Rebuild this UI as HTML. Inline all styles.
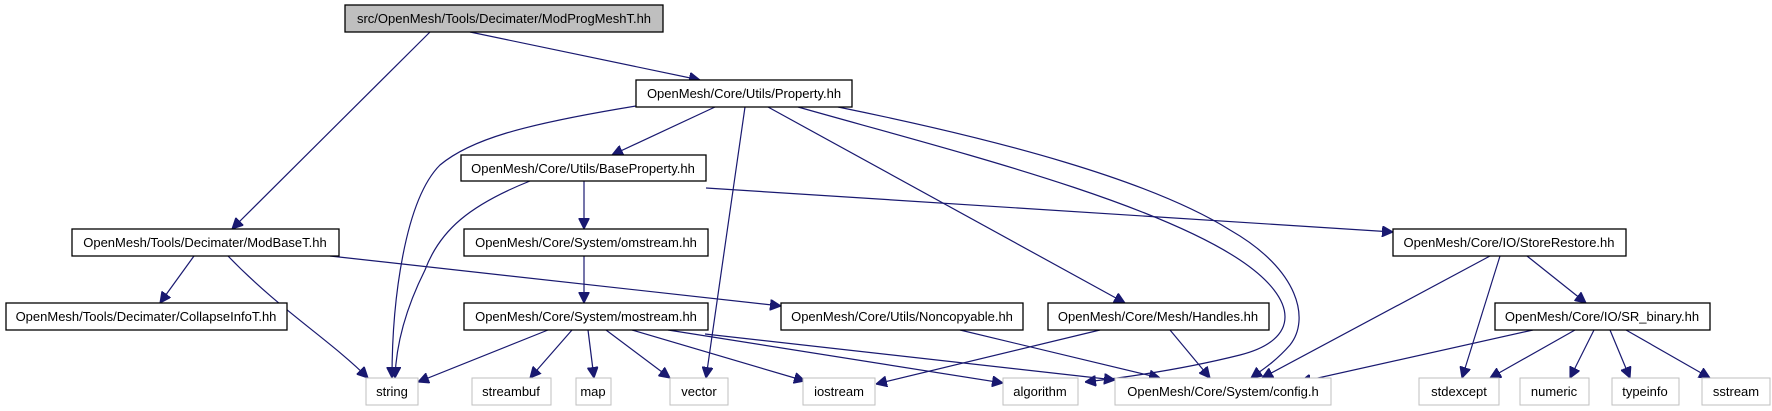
<!DOCTYPE html>
<html><head><meta charset="utf-8"><style>
html,body{margin:0;padding:0;background:#fff;}
svg{display:block;}
text{font-family:"Liberation Sans",Arial,sans-serif;font-size:13px;fill:#000;}
.n{fill:#fff;stroke:#000;stroke-width:1.3;}
.l{fill:#fff;stroke:#bfbfbf;stroke-width:1;}
.e{fill:none;stroke:#191970;stroke-width:1.2;marker-end:url(#a);}
</style></head><body>
<svg width="1772" height="411" viewBox="0 0 1772 411" xmlns="http://www.w3.org/2000/svg">
<defs><marker id="a" viewBox="0 0 10 10" refX="10" refY="5" markerWidth="11" markerHeight="11" markerUnits="userSpaceOnUse" orient="auto"><path d="M0,0 L10,5 L0,10 z" fill="#191970" stroke="#191970"/></marker></defs>
<g>
<path class="e" d="M470,32 L700,80"/>
<path class="e" d="M430,32 L232,229"/>
<path class="e" d="M715,107 L612,155"/>
<path class="e" d="M636,106 C520,125 470,140 440,165 C405,200 392,300 392,378"/>
<path class="e" d="M745,107 L706,378"/>
<path class="e" d="M768,107 L1125,303"/>
<path class="e" d="M798,107 C950,150 1150,200 1240,260 C1300,300 1300,340 1240,355 C1180,370 1120,378 1085,382"/>
<path class="e" d="M838,107 C1000,140 1150,180 1230,230 C1300,270 1310,320 1290,345 C1275,362 1262,370 1251,378"/>
<path class="e" d="M530,181 C470,205 440,230 425,270 C405,310 396,345 395,378"/>
<path class="e" d="M584,181 L584,229"/>
<path class="e" d="M706,188 L1393,232"/>
<path class="e" d="M194,256 L160,303"/>
<path class="e" d="M228,256 C280,310 330,340 368,378"/>
<path class="e" d="M330,256 L781,306"/>
<path class="e" d="M584,256 L584,303"/>
<path class="e" d="M548,330 L418,382"/>
<path class="e" d="M572,330 L530,378"/>
<path class="e" d="M588,330 L594,378"/>
<path class="e" d="M606,330 L670,378"/>
<path class="e" d="M632,330 L805,381"/>
<path class="e" d="M668,330 L1003,383"/>
<path class="e" d="M705,334 L1115,380"/>
<path class="e" d="M960,330 L1160,378"/>
<path class="e" d="M1100,330 L876,384"/>
<path class="e" d="M1170,330 L1210,378"/>
<path class="e" d="M1490,256 L1262,378"/>
<path class="e" d="M1500,256 L1462,378"/>
<path class="e" d="M1527,256 L1586,303"/>
<path class="e" d="M1533,330 L1300,382"/>
<path class="e" d="M1575,330 L1490,378"/>
<path class="e" d="M1594,330 L1570,378"/>
<path class="e" d="M1610,330 L1630,378"/>
<path class="e" d="M1626,330 L1710,378"/>
</g>
<g text-anchor="middle">
<rect x="345" y="5" width="318" height="27" fill="#bfbfbf" stroke="#000" stroke-width="1.3"/><text x="504" y="23">src/OpenMesh/Tools/Decimater/ModProgMeshT.hh</text>
<rect class="n" x="636" y="80" width="216" height="27"/><text x="744" y="98">OpenMesh/Core/Utils/Property.hh</text>
<rect class="n" x="461" y="155" width="245" height="26"/><text x="583" y="173">OpenMesh/Core/Utils/BaseProperty.hh</text>
<rect class="n" x="72" y="229" width="267" height="27"/><text x="205" y="247">OpenMesh/Tools/Decimater/ModBaseT.hh</text>
<rect class="n" x="464" y="229" width="244" height="27"/><text x="586" y="247">OpenMesh/Core/System/omstream.hh</text>
<rect class="n" x="1393" y="229" width="233" height="27"/><text x="1509" y="247">OpenMesh/Core/IO/StoreRestore.hh</text>
<rect class="n" x="6" y="303" width="281" height="27"/><text x="146" y="321">OpenMesh/Tools/Decimater/CollapseInfoT.hh</text>
<rect class="n" x="464" y="303" width="244" height="27"/><text x="586" y="321">OpenMesh/Core/System/mostream.hh</text>
<rect class="n" x="781" y="303" width="242" height="27"/><text x="902" y="321">OpenMesh/Core/Utils/Noncopyable.hh</text>
<rect class="n" x="1048" y="303" width="221" height="27"/><text x="1158" y="321">OpenMesh/Core/Mesh/Handles.hh</text>
<rect class="n" x="1495" y="303" width="215" height="27"/><text x="1602" y="321">OpenMesh/Core/IO/SR_binary.hh</text>
<rect class="l" x="366" y="378" width="52" height="27"/><text x="392" y="396">string</text>
<rect class="l" x="472" y="378" width="79" height="27"/><text x="511" y="396">streambuf</text>
<rect class="l" x="576" y="378" width="35" height="27"/><text x="593" y="396">map</text>
<rect class="l" x="670" y="378" width="58" height="27"/><text x="699" y="396">vector</text>
<rect class="l" x="803" y="378" width="72" height="27"/><text x="839" y="396">iostream</text>
<rect class="l" x="1003" y="378" width="75" height="27"/><text x="1040" y="396">algorithm</text>
<rect class="l" x="1115" y="378" width="216" height="27"/><text x="1223" y="396">OpenMesh/Core/System/config.h</text>
<rect class="l" x="1419" y="378" width="80" height="27"/><text x="1459" y="396">stdexcept</text>
<rect class="l" x="1520" y="378" width="69" height="27"/><text x="1554" y="396">numeric</text>
<rect class="l" x="1612" y="378" width="67" height="27"/><text x="1645" y="396">typeinfo</text>
<rect class="l" x="1702" y="378" width="68" height="27"/><text x="1736" y="396">sstream</text>
</g>
</svg>
</body></html>
